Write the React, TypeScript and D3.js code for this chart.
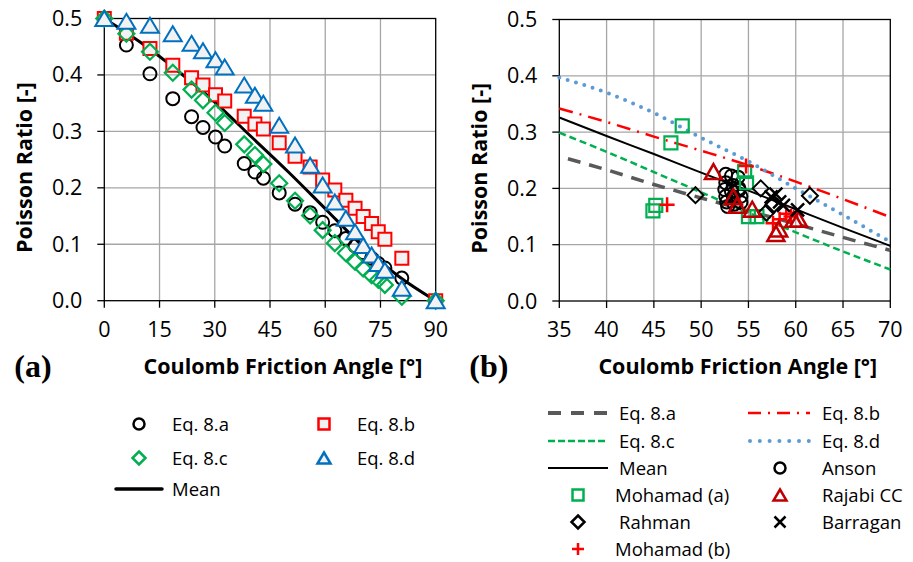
import React from 'react';
import * as d3 from 'd3';

// ---------- Panel (a) data ----------
const phiA = [0, 6, 12.4, 18.6, 23.7, 26.8, 30.2, 32.7, 38, 40.9, 43.2, 47.5, 51.8, 55.9, 59.3, 62.6, 65.6, 68.1, 70.3, 72.6, 74.4, 76.2, 80.8, 90];
const eq8a = [0.5, 0.453, 0.402, 0.358, 0.326, 0.307, 0.29, 0.274, 0.243, 0.228, 0.217, 0.191, 0.171, 0.156, 0.139, 0.124, 0.11, 0.097, 0.085, 0.075, 0.066, 0.058, 0.04, 0];
const eq8b = [0.5, 0.474, 0.447, 0.417, 0.395, 0.382, 0.365, 0.354, 0.327, 0.313, 0.304, 0.28, 0.256, 0.237, 0.214, 0.196, 0.178, 0.164, 0.149, 0.137, 0.122, 0.109, 0.075, 0];
const eq8c = [0.5, 0.473, 0.441, 0.404, 0.374, 0.355, 0.333, 0.315, 0.277, 0.258, 0.242, 0.208, 0.177, 0.151, 0.125, 0.102, 0.084, 0.069, 0.057, 0.045, 0.037, 0.028, 0.007, 0];
const eq8d = [0.5, 0.495, 0.488, 0.473, 0.456, 0.443, 0.427, 0.414, 0.382, 0.364, 0.35, 0.311, 0.276, 0.24, 0.205, 0.175, 0.146, 0.122, 0.098, 0.081, 0.066, 0.054, 0.022, 0];
const meanPhiA = [0, 10, 20, 30, 40, 50, 60, 70, 80, 90];
const meanA = [0.5, 0.457, 0.407, 0.352, 0.29, 0.228, 0.163, 0.098, 0.043, 0];
const xTicksA = [0, 15, 30, 45, 60, 75, 90];
const yTicks = [0, 0.1, 0.2, 0.3, 0.4, 0.5];

// ---------- Panel (b) data ----------
const phiB = [35, 40, 45, 50, 55, 60, 65, 70];
const line8a = [0.257, 0.233, 0.207, 0.183, 0.16, 0.137, 0.113, 0.09];
const line8b = [0.342, 0.318, 0.292, 0.267, 0.241, 0.212, 0.181, 0.149];
const line8c = [0.299, 0.265, 0.229, 0.193, 0.157, 0.122, 0.088, 0.056];
const line8d = [0.397, 0.37, 0.334, 0.29, 0.248, 0.2, 0.153, 0.105];
const lineMean = [0.326, 0.293, 0.261, 0.228, 0.196, 0.163, 0.13, 0.098];
const xTicksB = [35, 40, 45, 50, 55, 60, 65, 70];

const ansonPhi = [52.6, 53.2, 53.9, 52.6, 53.4, 52.5, 53.2, 54.0, 52.6, 53.4, 52.7, 53.5, 52.8, 54.2, 54.0, 54.2];
const ansonNu = [0.225, 0.222, 0.22, 0.21, 0.205, 0.198, 0.195, 0.197, 0.186, 0.185, 0.176, 0.172, 0.168, 0.175, 0.2, 0.186];
const mohAPhi = [44.9, 45.2, 46.8, 48.0, 54.6, 54.8, 55.0, 55.9];
const mohANu = [0.16, 0.17, 0.281, 0.311, 0.23, 0.21, 0.15, 0.15];
const rahmanPhi = [49.4, 56.3, 56.9, 57.6, 61.5];
const rahmanNu = [0.188, 0.2, 0.157, 0.17, 0.187];
const mohBPhi = [46.4, 54.75, 57.6, 58.3, 59.0, 59.5];
const mohBNu = [0.171, 0.24, 0.138, 0.145, 0.155, 0.15];
const rajabiPhi = [51.3, 53.4, 53.8, 55.4, 57.9, 58.2, 59.8, 60.3];
const rajabiNu = [0.23, 0.185, 0.17, 0.163, 0.12, 0.128, 0.145, 0.145];
const barraganPhi = [57.4, 57.9, 58.3, 58.7, 60.2];
const barraganNu = [0.185, 0.19, 0.176, 0.17, 0.162];

const FONT = "'Open Sans', sans-serif";
const RED = '#FF0000';
const GREEN = '#00B050';
const BLUE = '#0070C0';
const LBLUE = '#5B9BD5';
const DRED = '#C00000';
const GRAY = '#595959';
const FILL = '#F2F2F2';

const tri = (w: number, h: number) => `M0,${-h / 2}L${w / 2},${h / 2}L${-w / 2},${h / 2}Z`;
const dia = (r: number) => `M0,${-r}L${r},0L0,${r}L${-r},0Z`;
const sq = (s: number) => `M${-s / 2},${-s / 2}h${s}v${s}h${-s}Z`;
const plus = (s: number) => `M${-s / 2},0H${s / 2}M0,${-s / 2}V${s / 2}`;
const cross = (s: number) => `M${-s / 2},${-s / 2}L${s / 2},${s / 2}M${s / 2},${-s / 2}L${-s / 2},${s / 2}`;

function Panel({ x, y, xTicks, label, children }: any) {
  const [x0, x1] = x.range();
  const [y0, y1] = y.range();
  return (
    <g>
      {xTicks.slice(1, -1).map((t: number) => (
        <line key={'gx' + t} x1={x(t)} x2={x(t)} y1={y0} y2={y1} stroke="#A6A6A6" strokeWidth={1.3} />
      ))}
      {yTicks.slice(1, -1).map((t: number) => (
        <line key={'gy' + t} x1={x0} x2={x1} y1={y(t)} y2={y(t)} stroke="#A6A6A6" strokeWidth={1.3} />
      ))}
      <rect x={x0} y={y1} width={x1 - x0} height={y0 - y1} fill="none" stroke="#000" strokeWidth={1.3} />
      {xTicks.map((t: number) => (
        <g key={'xt' + t}>
          <line x1={x(t)} x2={x(t)} y1={y0} y2={y0 + 7} stroke="#000" strokeWidth={1.3} />
          <text x={x(t)} y={y0 + 36} textAnchor="middle" fontFamily={FONT} fontSize={21.5} fill="#000">{t}</text>
        </g>
      ))}
      {yTicks.map((t: number) => (
        <g key={'yt' + t}>
          <line x1={x0 - 7} x2={x0} y1={y(t)} y2={y(t)} stroke="#000" strokeWidth={1.3} />
          <text x={x0 - 22} y={y(t) + 7.5} textAnchor="end" fontFamily={FONT} fontSize={21.5} fill="#000">{t.toFixed(1)}</text>
        </g>
      ))}
      <text transform={`translate(${x0 - 72},${(y0 + y1) / 2 + 8}) rotate(-90)`} textAnchor="middle" fontFamily={FONT} fontWeight="bold" fontSize={21.5} fill="#000">Poisson Ratio [-]</text>
      <text x={(x0 + x1) / 2 + 13} y={374} textAnchor="middle" fontFamily={FONT} fontWeight="bold" fontSize={21.5} fill="#000">Coulomb Friction Angle [°]</text>
      <text x={x0 - 90} y={377} fontFamily="'Liberation Serif', 'Times New Roman', serif" fontWeight="bold" fontSize={32} fill="#000">{label}</text>
      {children}
    </g>
  );
}

export default function App() {
  const xL = d3.scaleLinear().domain([0, 90]).range([104.3, 435.7]);
  const yL = d3.scaleLinear().domain([0, 0.5]).range([300.7, 18.5]);
  const xR = d3.scaleLinear().domain([35, 70]).range([559.3, 890.3]);
  const yR = d3.scaleLinear().domain([0, 0.5]).range([301, 19.5]);

  const lineL = (xs: number[], ys: number[]) =>
    d3.line<number>().x((_, i) => xL(xs[i])).y((d) => yL(d)).curve(d3.curveMonotoneX)(ys) || '';
  const lineR = (ys: number[]) =>
    d3.line<number>().x((_, i) => xR(phiB[i])).y((d) => yR(d)).curve(d3.curveMonotoneX)(ys) || '';

  const pts = (xs: number[], ys: number[], sx: any, sy: any) => ys.map((v, i) => [sx(xs[i]), sy(v)]);

  const legText = (x: number, y: number, s: string) => (
    <text x={x} y={y + 7} fontFamily={FONT} fontSize={18.5} fill="#000">{s}</text>
  );

  const rowsR = [413, 441, 468, 495, 522, 549];

  return (
    <svg width={913} height={562} style={{ position: 'absolute', left: 0, top: 0, background: '#fff' }}>
      <rect width={913} height={562} fill="#fff" />
      {/* Panel (a) */}
      <Panel x={xL} y={yL} xTicks={xTicksA} label="(a)">
        <path d={lineL(meanPhiA, meanA)} fill="none" stroke="#000" strokeWidth={3} />
        {pts(phiA, eq8a, xL, yL).map(([px, py], i) => (
          <circle key={'a' + i} cx={px} cy={py} r={6.5} fill="none" stroke="#000" strokeWidth={2} />
        ))}
        {pts(phiA, eq8b, xL, yL).map(([px, py], i) => (
          <path key={'b' + i} transform={`translate(${px},${py})`} d={sq(13)} fill={FILL} stroke={RED} strokeWidth={2} />
        ))}
        {pts(phiA, eq8c, xL, yL).map(([px, py], i) => (
          <path key={'c' + i} transform={`translate(${px},${py})`} d={dia(8)} fill="none" stroke={GREEN} strokeWidth={2.2} />
        ))}
        {pts(phiA, eq8d, xL, yL).map(([px, py], i) => (
          <path key={'d' + i} transform={`translate(${px},${py})`} d={tri(18, 15)} fill={FILL} stroke={BLUE} strokeWidth={2} strokeLinejoin="miter" />
        ))}
      </Panel>

      {/* Panel (b) */}
      <Panel x={xR} y={yR} xTicks={xTicksB} label="(b)">
        <path d={lineR(line8a)} fill="none" stroke={GRAY} strokeWidth={3.5} strokeDasharray="13 9" strokeDashoffset={-9} />
        <path d={lineR(line8c)} fill="none" stroke={GREEN} strokeWidth={2.5} strokeDasharray="7 4" />
        <path d={lineR(line8b)} fill="none" stroke={RED} strokeWidth={2.5} strokeDasharray="14 7 2 7" />
        <path d={lineR(line8d)} fill="none" stroke={LBLUE} strokeWidth={4} strokeDasharray="0 8.7" strokeLinecap="round" />
        <path d={lineR(lineMean)} fill="none" stroke="#000" strokeWidth={2} />
        {pts(ansonPhi, ansonNu, xR, yR).map(([px, py], i) => (
          <circle key={'an' + i} cx={px} cy={py} r={6.5} fill="none" stroke="#000" strokeWidth={2} />
        ))}
        {pts(mohAPhi, mohANu, xR, yR).map(([px, py], i) => (
          <path key={'ma' + i} transform={`translate(${px},${py})`} d={sq(13)} fill="none" stroke={GREEN} strokeWidth={2.2} />
        ))}
        {pts(rahmanPhi, rahmanNu, xR, yR).map(([px, py], i) => (
          <path key={'ra' + i} transform={`translate(${px},${py})`} d={dia(8)} fill="none" stroke="#000" strokeWidth={2} />
        ))}
        {pts(mohBPhi, mohBNu, xR, yR).map(([px, py], i) => (
          <path key={'mb' + i} transform={`translate(${px},${py})`} d={plus(15)} fill="none" stroke={RED} strokeWidth={2.5} />
        ))}
        {pts(rajabiPhi, rajabiNu, xR, yR).map(([px, py], i) => (
          <path key={'rj' + i} transform={`translate(${px},${py})`} d={tri(17, 15)} fill="none" stroke={DRED} strokeWidth={2.5} />
        ))}
        {pts(barraganPhi, barraganNu, xR, yR).map(([px, py], i) => (
          <path key={'ba' + i} transform={`translate(${px},${py})`} d={cross(13)} fill="none" stroke="#000" strokeWidth={2.5} />
        ))}
      </Panel>

      {/* Legend (a) */}
      <circle cx={139} cy={424} r={5.5} fill="#fff" stroke="#000" strokeWidth={2.5} />
      {legText(172, 424, 'Eq. 8.a')}
      <path transform="translate(324,424)" d={sq(11)} fill={FILL} stroke={RED} strokeWidth={2.5} />
      {legText(357, 424, 'Eq. 8.b')}
      <path transform="translate(139,458)" d={dia(6.5)} fill="#fff" stroke={GREEN} strokeWidth={2.5} />
      {legText(172, 458, 'Eq. 8.c')}
      <path transform="translate(324,458)" d={tri(13, 11)} fill={FILL} stroke={BLUE} strokeWidth={2.5} />
      {legText(357, 458, 'Eq. 8.d')}
      <line x1={116} x2={162} y1={489} y2={489} stroke="#000" strokeWidth={3.5} strokeLinecap="round" />
      {legText(172, 489, 'Mean')}

      {/* Legend (b) */}
      <line x1={548} x2={608} y1={rowsR[0]} y2={rowsR[0]} stroke={GRAY} strokeWidth={4} strokeDasharray="13 10" />
      {legText(619, rowsR[0], 'Eq. 8.a')}
      <line x1={748} x2={810} y1={rowsR[0]} y2={rowsR[0]} stroke={RED} strokeWidth={2.5} strokeDasharray="13 7 2 7" />
      {legText(822, rowsR[0], 'Eq. 8.b')}
      <line x1={548} x2={608} y1={rowsR[1]} y2={rowsR[1]} stroke={GREEN} strokeWidth={2.5} strokeDasharray="7 3" />
      {legText(619, rowsR[1], 'Eq. 8.c')}
      <line x1={750} x2={810} y1={rowsR[1]} y2={rowsR[1]} stroke={LBLUE} strokeWidth={4} strokeDasharray="0 9.8" strokeLinecap="round" />
      {legText(822, rowsR[1], 'Eq. 8.d')}
      <line x1={548} x2={608} y1={rowsR[2]} y2={rowsR[2]} stroke="#000" strokeWidth={2} />
      {legText(619, rowsR[2], 'Mean')}
      <circle cx={780} cy={rowsR[2]} r={5.5} fill="#fff" stroke="#000" strokeWidth={2.5} />
      {legText(822, rowsR[2], 'Anson')}
      <path transform={`translate(578,${rowsR[3]})`} d={sq(11)} fill="#fff" stroke={GREEN} strokeWidth={2.5} />
      {legText(615, rowsR[3], 'Mohamad (a)')}
      <path transform={`translate(780,${rowsR[3]})`} d={tri(13, 11)} fill="#fff" stroke={DRED} strokeWidth={2.5} />
      {legText(822, rowsR[3], 'Rajabi CC')}
      <path transform={`translate(578,${rowsR[4]})`} d={dia(6.5)} fill="#fff" stroke="#000" strokeWidth={2.5} />
      {legText(619, rowsR[4], 'Rahman')}
      <path transform={`translate(780,${rowsR[4]})`} d={cross(11)} fill="none" stroke="#000" strokeWidth={2.5} />
      {legText(822, rowsR[4], 'Barragan')}
      <path transform={`translate(578,${rowsR[5]})`} d={plus(12)} fill="none" stroke={RED} strokeWidth={2.5} />
      {legText(615, rowsR[5], 'Mohamad (b)')}
    </svg>
  );
}
